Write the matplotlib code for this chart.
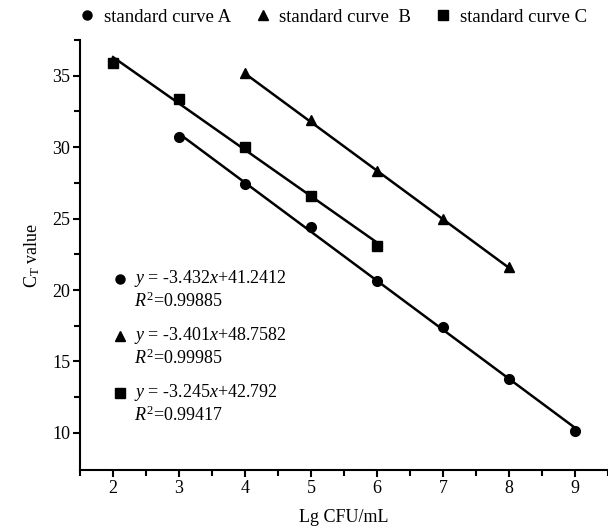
import matplotlib
matplotlib.use("Agg")
import matplotlib.pyplot as plt
from matplotlib.lines import Line2D
import numpy as np

plt.rcParams['font.family'] = ['Liberation Serif', 'DejaVu Serif']
plt.rcParams['mathtext.fontset'] = 'custom'
plt.rcParams['mathtext.rm'] = 'Liberation Serif'
plt.rcParams['mathtext.it'] = 'Liberation Serif:italic'

# Data
x_a = [3, 4, 5, 6, 7, 8, 9]
ct_a = [30.7, 27.4, 24.4, 20.6, 17.4, 13.8, 10.1]
x_b = [4, 5, 6, 7, 8]
ct_b = [35.2, 31.9, 28.3, 25.0, 21.6]
x_c = [2, 3, 4, 5, 6]
ct_c = [35.9, 33.4, 30.0, 26.6, 23.1]

slopes = [-3.432, -3.401, -3.245]
intercepts = [41.2412, 48.7582, 42.792]
r2 = ["0.99885", "0.99985", "0.99417"]
labels = ["standard curve A", "standard curve  B", "standard curve C"]
markers = ["o", "^", "s"]
eq_texts = ["-3.432", "-3.401", "-3.245"]
int_texts = ["41.2412", "48.7582", "42.792"]

FS = 13

fig = plt.figure(figsize=(6.08, 5.29), dpi=100)
ax = fig.add_axes([80/608, 59/529, 528/608, 430/529])

series = [(x_a, ct_a), (x_b, ct_b), (x_c, ct_c)]
msizes = [7, 7.5, 6.5]
for (xs, ys), m, k, b, ms in zip(series, markers, slopes, intercepts, msizes):
    xs = np.array(xs)
    xl = np.array([xs.min(), xs.max()])
    ax.plot(xl, k * xl + b, color='black', lw=1.8, zorder=2)
    ax.plot(xs, ys, linestyle='none', marker=m, color='black', ms=ms, zorder=3)

ax.set_xlim(1.5, 9.5)
ax.set_ylim(7.4, 37.5)
ax.set_xticks([2, 3, 4, 5, 6, 7, 8, 9])
ax.set_xticks(np.arange(1.5, 9.6, 1.0), minor=True)
ax.set_yticks([10, 15, 20, 25, 30, 35])
ax.set_yticks([12.5, 17.5, 22.5, 27.5, 32.5, 37.5], minor=True)
for s in ['top', 'right']:
    ax.spines[s].set_visible(False)
for s in ['left', 'bottom']:
    ax.spines[s].set_linewidth(1.5)
ax.tick_params(which='major', direction='out', length=5, width=1.5, labelsize=FS, pad=2)
ax.tick_params(which='minor', direction='out', length=4, width=1.5)
ax.set_xlabel("Lg CFU/mL", fontsize=FS, labelpad=9)
ax.set_ylabel(r"C$_\mathrm{T}$ value", fontsize=FS, labelpad=7)

# equation annotations
rows = [(20.8, 19.2), (16.8, 15.2), (12.8, 11.2)]
for (yeq, yr), m, st, it, r in zip(rows, markers, eq_texts, int_texts, r2):
    ax.plot([2.1], [yeq], marker=m, color='black', ms=6.5, clip_on=False)
    ax.text(2.32, yeq, r"$\mathit{y}$ = " + st + r"$\mathit{x}$+" + it, fontsize=FS,
            va='center', ha='left')
    ax.text(2.32, yr, r"$\mathit{R}^{2}$=" + r, fontsize=FS, va='center', ha='left')

handles = [Line2D([], [], linestyle='none', marker=m, color='black', ms=6.5) for m in markers]
fig.legend(handles, labels, loc='center', bbox_to_anchor=(0.548, 1 - 17/529), ncol=3,
           frameon=False, fontsize=FS + 0.5, handlelength=0.8, handletextpad=0.5,
           columnspacing=1.3, borderpad=0)

fig.savefig("out.png", dpi=100)
